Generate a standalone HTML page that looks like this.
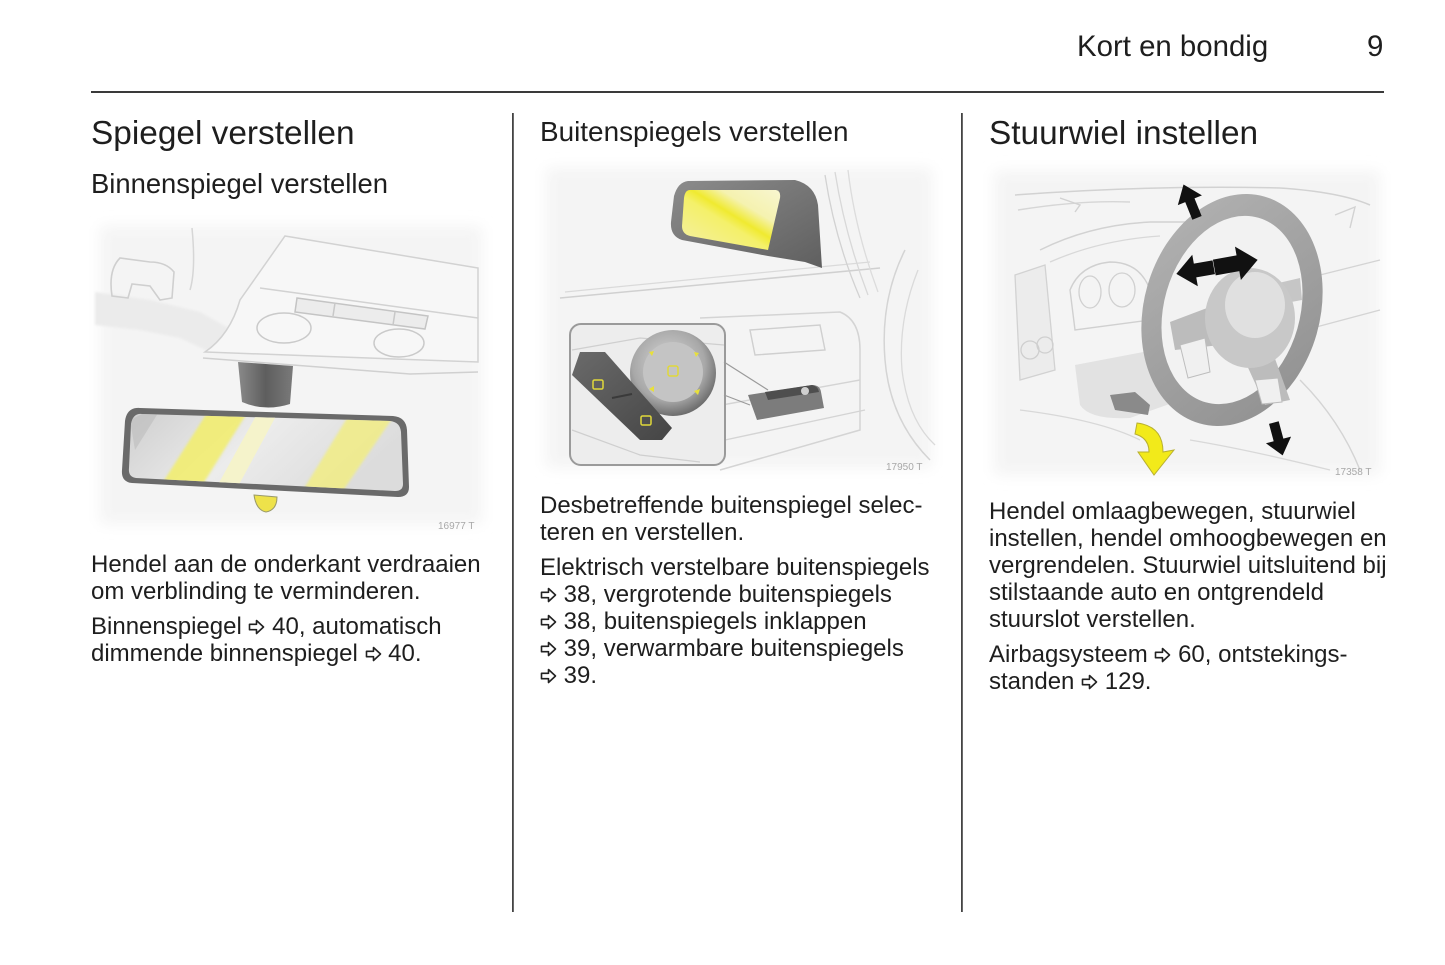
<!DOCTYPE html>
<html>
<head>
<meta charset="utf-8">
<style>
  html,body{margin:0;padding:0;background:#fff;}
  body{width:1445px;height:965px;position:relative;overflow:hidden;font-family:"Liberation Sans",Arial,sans-serif;color:#1e1e1e;}
  .abs{position:absolute;white-space:nowrap;}
  .hdr{font-size:29.4px;line-height:34px;}
  .h1{font-size:33.4px;line-height:40px;}
  .h2{font-size:27.4px;line-height:32px;}
  .h2b{font-size:27.9px;line-height:32px;}
  .body{font-size:24px;line-height:27px;}
  .body p{margin:0 0 8px 0;}
  .ar{width:17px;height:16px;vertical-align:-1px;}
  #art{position:absolute;left:0;top:0;}
</style>
</head>
<body>

<svg id="art" width="1445" height="965" viewBox="0 0 1445 965" xmlns="http://www.w3.org/2000/svg">
  <defs>
    <filter id="soft" x="-10%" y="-10%" width="120%" height="120%"><feGaussianBlur stdDeviation="7"/></filter>
    <filter id="sb" x="-20%" y="-20%" width="140%" height="140%"><feGaussianBlur stdDeviation="1.2"/></filter>
    <linearGradient id="mirr1" x1="0" y1="0" x2="1" y2="0.3">
      <stop offset="0" stop-color="#cfcfcf"/>
      <stop offset="0.5" stop-color="#ececec"/>
      <stop offset="1" stop-color="#dcdcdc"/>
    </linearGradient>
    <linearGradient id="mount" x1="0" y1="0" x2="1" y2="0">
      <stop offset="0" stop-color="#8a8a8a"/>
      <stop offset="0.5" stop-color="#5e5e5e"/>
      <stop offset="1" stop-color="#7a7a7a"/>
    </linearGradient>
    <linearGradient id="glass2" x1="0" y1="1" x2="1" y2="0">
      <stop offset="0" stop-color="#f3f0a8"/>
      <stop offset="0.45" stop-color="#f4f06a"/>
      <stop offset="0.55" stop-color="#f0ea30"/>
      <stop offset="0.7" stop-color="#f5f2b0"/>
      <stop offset="1" stop-color="#f8f6d0"/>
    </linearGradient>
    <linearGradient id="house" x1="0" y1="0" x2="1" y2="1">
      <stop offset="0" stop-color="#8c8c8c"/>
      <stop offset="1" stop-color="#5f5f5f"/>
    </linearGradient>
    <radialGradient id="knob" cx="0.45" cy="0.4" r="0.6">
      <stop offset="0" stop-color="#d8d8d8"/>
      <stop offset="0.7" stop-color="#a8a8a8"/>
      <stop offset="1" stop-color="#6e6e6e"/>
    </radialGradient>
    <linearGradient id="btn" x1="0" y1="0" x2="1" y2="1">
      <stop offset="0" stop-color="#6a6a6a"/>
      <stop offset="1" stop-color="#454545"/>
    </linearGradient>
    <linearGradient id="ring" x1="0" y1="0" x2="1" y2="1">
      <stop offset="0" stop-color="#b4b4b4"/>
      <stop offset="1" stop-color="#8e8e8e"/>
    </linearGradient>
    <clipPath id="mclip"><path d="M142,414 L390,421 Q400,422 401,432 L403,484 Q403,491 395,491 L136,478 Q128,477 129,468 L131,424 Q133,413 142,414 Z"/></clipPath>
  </defs>

  <!-- ============ Image 1 ============ -->
  <rect x="100" y="226" width="382" height="298" fill="#f4f4f4" filter="url(#soft)"/>
  <path d="M95,292 L150,300 L200,312 L232,330 L250,345 L210,352 L180,338 L140,330 L95,325 Z" fill="#ebebeb" filter="url(#sb)"/>
  <path d="M120,258 Q108,270 112,296 L128,298 L132,284 L150,286 L160,300 L172,298 L174,272 Q166,262 150,262 Z" fill="none" stroke="#cfcfcf" stroke-width="1.6"/>
  <path d="M192,228 Q196,270 190,290" fill="none" stroke="#d6d6d6" stroke-width="1.5"/>
  <path d="M285,236 L478,268 L478,362 L205,352 Q230,335 240,300 Z" fill="#f7f7f7" stroke="#d2d2d2" stroke-width="1.5"/>
  <path d="M260,288 L478,318" stroke="#d2d2d2" stroke-width="1.5"/>
  <path d="M203,358 L410,374 L478,372" fill="none" stroke="#d0d0d0" stroke-width="1.5"/>
  <path d="M297,298 L428,316 L425,329 L295,312 Z" fill="#ececec" stroke="#c4c4c4" stroke-width="1.5"/>
  <line x1="335" y1="303" x2="333" y2="316" stroke="#c8c8c8" stroke-width="1.5"/>
  <line x1="395" y1="312" x2="393" y2="325" stroke="#c8c8c8" stroke-width="1.5"/>
  <ellipse cx="284" cy="328" rx="27" ry="15" fill="#f7f7f7" stroke="#cacaca" stroke-width="1.5"/>
  <ellipse cx="399" cy="343" rx="25" ry="14" fill="#f7f7f7" stroke="#cacaca" stroke-width="1.5"/>
  <path d="M238,362 L293,366 L290,404 Q265,412 242,402 Z" fill="url(#mount)"/>
  <path d="M140,408 L393,416 Q406,417 407,430 L409,487 Q409,497 398,497 L132,483 Q121,482 122,470 L125,421 Q127,407 140,408 Z" fill="#6a6a6a"/>
  <path d="M142,414 L390,421 Q400,422 401,432 L403,484 Q403,491 395,491 L136,478 Q128,477 129,468 L131,424 Q133,413 142,414 Z" fill="url(#mirr1)"/>
  <g clip-path="url(#mclip)">
    <polygon points="158,490 212,405 252,405 198,492" fill="#f2ee6a" opacity="0.85" filter="url(#sb)"/>
    <polygon points="215,490 262,405 282,405 235,492" fill="#f6f4c8" opacity="0.9"/>
    <polygon points="300,495 352,410 398,410 340,495" fill="#f1ed84" opacity="0.85" filter="url(#sb)"/>
    <polygon points="130,420 150,410 160,410 135,450" fill="#bdbdbd" opacity="0.6"/>
  </g>
  <path d="M254,495 L277,497 Q277,510 266,512 Q256,510 254,495 Z" fill="#eee24a" stroke="#9a9a6a" stroke-width="1"/>
  <text x="438" y="529" font-family="Liberation Sans, sans-serif" font-size="10" fill="#a8a8a8">16977 T</text>

  <!-- ============ Image 2 ============ -->
  <rect x="546" y="168" width="386" height="300" fill="#f4f4f4" filter="url(#soft)"/>
  <path d="M560,298 L880,268" stroke="#d0d0d0" stroke-width="1.5" fill="none"/>
  <path d="M565,292 L870,262" stroke="#dadada" stroke-width="1.2" fill="none"/>
  <path d="M825,175 Q835,240 860,298" stroke="#d2d2d2" stroke-width="1.3" fill="none"/>
  <path d="M835,172 Q845,235 868,295" stroke="#d8d8d8" stroke-width="1.3" fill="none"/>
  <path d="M848,170 Q855,230 878,292" stroke="#dcdcdc" stroke-width="1.3" fill="none"/>
  <path d="M905,250 Q880,300 885,360 Q890,420 930,460" stroke="#d4d4d4" stroke-width="1.5" fill="none"/>
  <path d="M918,270 Q898,320 902,370 Q908,420 935,445" stroke="#dadada" stroke-width="1.3" fill="none"/>
  <path d="M700,318 L840,312 Q860,320 860,350 L860,430 L720,470" stroke="#d4d4d4" stroke-width="1.5" fill="none"/>
  <path d="M750,330 L820,325 L825,350 L755,355 Z" fill="none" stroke="#cfcfcf" stroke-width="1.4"/>
  <path d="M722,405 L860,380 M725,440 L865,410" stroke="#d4d4d4" stroke-width="1.4" fill="none"/>
  <path d="M688,181 L795,180 Q815,185 818,205 L822,268 L805,262 L768,256 L682,240 Q670,236 671,222 L674,196 Q678,182 688,181 Z" fill="url(#house)"/>
  <path d="M690,190 L776,190 Q781,191 780,198 L768,250 L690,236 Q682,234 682,226 L684,198 Q685,190 690,190 Z" fill="url(#glass2)"/>
  <rect x="570" y="324" width="155" height="141" rx="11" fill="#ededed" stroke="#9a9a9a" stroke-width="2"/>
  <path d="M572,350 L640,338 L724,345" stroke="#cfcfcf" stroke-width="1.2" fill="none"/>
  <path d="M572,430 L640,455 L700,462" stroke="#cfcfcf" stroke-width="1.2" fill="none"/>
  <circle cx="673" cy="373" r="43" fill="url(#knob)"/>
  <circle cx="673" cy="372" r="30" fill="#c4c4c4"/>
  <polygon points="649,352 654,351 652,356" fill="#e8e03a"/>
  <polygon points="694,352 699,353 696,357" fill="#e8e03a"/>
  <polygon points="649,389 654,386 654,392" fill="#e8e03a"/>
  <polygon points="694,391 700,389 698,395" fill="#e8e03a"/>
  <rect x="668" y="366" width="10" height="10" rx="2" fill="none" stroke="#e0d83a" stroke-width="1.5"/>
  <path d="M580,352 L605,352 L672,428 L662,440 L640,440 L572,375 Z" fill="url(#btn)"/>
  <line x1="612" y1="398" x2="632" y2="394" stroke="#3a3a3a" stroke-width="2"/>
  <rect x="593" y="380" width="10" height="9" rx="1.5" fill="none" stroke="#e0d83a" stroke-width="1.5"/>
  <rect x="641" y="416" width="10" height="9" rx="1.5" fill="none" stroke="#e0d83a" stroke-width="1.5"/>
  <line x1="724" y1="362" x2="768" y2="390" stroke="#9a9a9a" stroke-width="1.2"/>
  <line x1="724" y1="395" x2="750" y2="405" stroke="#9a9a9a" stroke-width="1.2"/>
  <path d="M748,395 L812,385 Q820,385 821,392 L824,408 L757,420 Z" fill="#7c7c7c"/>
  <path d="M765,392 L812,385 Q818,386 819,392 L768,400 Z" fill="#4e4e4e"/>
  <circle cx="805" cy="391" r="4" fill="#cfcfcf"/>
  <text x="886" y="470" font-family="Liberation Sans, sans-serif" font-size="10" fill="#a8a8a8">17950 T</text>

  <!-- ============ Image 3 ============ -->
  <rect x="994" y="171" width="386" height="304" fill="#f4f4f4" filter="url(#soft)"/>
  <path d="M1015,195 Q1150,185 1280,188 Q1340,192 1370,205" stroke="#d2d2d2" stroke-width="1.5" fill="none"/>
  <path d="M1018,210 Q1080,200 1130,202" stroke="#d6d6d6" stroke-width="1.4" fill="none"/>
  <path d="M1060,198 L1080,205 L1075,212" stroke="#d2d2d2" stroke-width="1.4" fill="none"/>
  <path d="M1335,215 L1355,207 L1350,228" stroke="#d2d2d2" stroke-width="1.4" fill="none"/>
  <path d="M1040,250 Q1090,225 1150,222 L1195,222" stroke="#d2d2d2" stroke-width="1.5" fill="none"/>
  <path d="M1050,262 Q1100,240 1160,236" stroke="#d8d8d8" stroke-width="1.3" fill="none"/>
  <path d="M1015,275 L1045,265 L1055,370 L1020,380 Z" fill="#ececec" stroke="#d2d2d2" stroke-width="1.3"/>
  <circle cx="1030" cy="350" r="9" fill="none" stroke="#cfcfcf" stroke-width="1.3"/>
  <circle cx="1045" cy="345" r="8" fill="none" stroke="#cfcfcf" stroke-width="1.3"/>
  <path d="M1070,290 Q1080,265 1110,262 Q1140,262 1150,290 L1150,320 L1075,330 Z" fill="none" stroke="#d0d0d0" stroke-width="1.4"/>
  <ellipse cx="1090" cy="292" rx="11" ry="16" fill="none" stroke="#d0d0d0" stroke-width="1.3"/>
  <ellipse cx="1122" cy="290" rx="13" ry="17" fill="none" stroke="#d0d0d0" stroke-width="1.3"/>
  <path d="M1300,280 L1380,260 M1305,330 L1380,310 M1300,380 Q1340,420 1360,470" stroke="#d4d4d4" stroke-width="1.4" fill="none"/>
  <path d="M1020,410 Q1100,420 1140,440 M1190,440 Q1250,450 1330,470" stroke="#d8d8d8" stroke-width="1.3" fill="none"/>
  <path d="M1075,365 L1180,345 L1195,395 L1130,418 Q1090,420 1080,405 Z" fill="#e2e2e2"/>
  <path d="M1110,395 L1135,392 L1150,405 L1148,415 L1115,410 Z" fill="#8a8a8a"/>
  <g transform="rotate(16 1232 310)">
    <ellipse cx="1232" cy="310" rx="88" ry="118" fill="url(#ring)"/>
    <ellipse cx="1232" cy="310" rx="68" ry="96" fill="#f2f2f2"/>
  </g>
  <path d="M1170,322 L1215,305 L1220,345 L1175,350 Z" fill="#bcbcbc"/>
  <path d="M1240,350 L1270,345 L1290,400 L1265,405 Z" fill="#bcbcbc"/>
  <path d="M1270,285 L1300,278 L1302,300 L1275,305 Z" fill="#c6c6c6"/>
  <ellipse cx="1250" cy="318" rx="45" ry="50" fill="#c8c8c8"/>
  <ellipse cx="1255" cy="305" rx="30" ry="33" fill="#e0e0e0"/>
  <path d="M1180,345 L1205,338 L1210,372 L1188,378 Z" fill="#f0f0f0" stroke="#bdbdbd" stroke-width="1"/>
  <path d="M1255,380 L1278,378 L1282,402 L1262,404 Z" fill="#f0f0f0" stroke="#bdbdbd" stroke-width="1"/>
  <!-- black arrows -->
  <g transform="translate(1191,203) rotate(-22)">
    <polygon points="0,-20 13,-3 5,-3 5,16 -5,16 -5,-3 -13,-3" fill="#111"/>
  </g>
  <g transform="translate(1198,270) rotate(-100)">
    <polygon points="0,-22 16,-3 7,-3 7,16 -7,16 -7,-3 -16,-3" fill="#111"/>
  </g>
  <g transform="translate(1234,264) rotate(80)">
    <polygon points="0,-24 17,-4 8,-4 8,20 -8,20 -8,-4 -17,-4" fill="#111"/>
  </g>
  <g transform="translate(1278,438) rotate(165)">
    <polygon points="0,-18 13,-2 5,-2 5,16 -5,16 -5,-2 -13,-2" fill="#111"/>
  </g>
  <path d="M1137,423 Q1163,426 1163,452 L1174,450 L1154,475 L1138,452 L1149,452 Q1149,438 1135,434 Z" fill="#f2ea1a" stroke="#b8b030" stroke-width="1"/>
  <text x="1335" y="475" font-family="Liberation Sans, sans-serif" font-size="10" fill="#a8a8a8">17358 T</text>

  <!-- rules -->
  <rect x="91" y="91" width="1293" height="2" fill="#3a3a3a"/>
  <rect x="512" y="113" width="1.8" height="799" fill="#444"/>
  <rect x="961" y="113" width="1.8" height="799" fill="#444"/>
</svg>

<div class="abs hdr" style="left:1077px;top:30px;">Kort en bondig</div>
<div class="abs hdr" style="left:1367px;top:30px;">9</div>

<div class="abs h1" style="left:91px;top:114px;">Spiegel verstellen</div>
<div class="abs h2" style="left:91px;top:168px;">Binnenspiegel verstellen</div>
<div class="abs body" style="left:91px;top:551px;">
  <p>Hendel aan de onderkant verdraaien<br>om verblinding te verminderen.</p>
  <p>Binnenspiegel <svg class="ar" viewBox="0 0 17 16"><path d="M1.5 5.3H8.5V1.5L15.5 8 8.5 14.5V10.7H1.5Z" fill="none" stroke="#222" stroke-width="1.6" stroke-linejoin="round"/></svg> 40, automatisch<br>dimmende binnenspiegel <svg class="ar" viewBox="0 0 17 16"><path d="M1.5 5.3H8.5V1.5L15.5 8 8.5 14.5V10.7H1.5Z" fill="none" stroke="#222" stroke-width="1.6" stroke-linejoin="round"/></svg> 40.</p>
</div>

<div class="abs h2b" style="left:540px;top:116px;">Buitenspiegels verstellen</div>
<div class="abs body" style="left:540px;top:492px;">
  <p>Desbetreffende buitenspiegel selec-<br>teren en verstellen.</p>
  <p>Elektrisch verstelbare buitenspiegels<br><svg class="ar" viewBox="0 0 17 16"><path d="M1.5 5.3H8.5V1.5L15.5 8 8.5 14.5V10.7H1.5Z" fill="none" stroke="#222" stroke-width="1.6" stroke-linejoin="round"/></svg> 38, vergrotende buitenspiegels<br><svg class="ar" viewBox="0 0 17 16"><path d="M1.5 5.3H8.5V1.5L15.5 8 8.5 14.5V10.7H1.5Z" fill="none" stroke="#222" stroke-width="1.6" stroke-linejoin="round"/></svg> 38, buitenspiegels inklappen<br><svg class="ar" viewBox="0 0 17 16"><path d="M1.5 5.3H8.5V1.5L15.5 8 8.5 14.5V10.7H1.5Z" fill="none" stroke="#222" stroke-width="1.6" stroke-linejoin="round"/></svg> 39, verwarmbare buitenspiegels<br><svg class="ar" viewBox="0 0 17 16"><path d="M1.5 5.3H8.5V1.5L15.5 8 8.5 14.5V10.7H1.5Z" fill="none" stroke="#222" stroke-width="1.6" stroke-linejoin="round"/></svg> 39.</p>
</div>

<div class="abs h1" style="left:989px;top:114px;">Stuurwiel instellen</div>
<div class="abs body" style="left:989px;top:498px;">
  <p>Hendel omlaagbewegen, stuurwiel<br>instellen, hendel omhoogbewegen en<br>vergrendelen. Stuurwiel uitsluitend bij<br>stilstaande auto en ontgrendeld<br>stuurslot verstellen.</p>
  <p>Airbagsysteem <svg class="ar" viewBox="0 0 17 16"><path d="M1.5 5.3H8.5V1.5L15.5 8 8.5 14.5V10.7H1.5Z" fill="none" stroke="#222" stroke-width="1.6" stroke-linejoin="round"/></svg> 60, ontstekings-<br>standen <svg class="ar" viewBox="0 0 17 16"><path d="M1.5 5.3H8.5V1.5L15.5 8 8.5 14.5V10.7H1.5Z" fill="none" stroke="#222" stroke-width="1.6" stroke-linejoin="round"/></svg> 129.</p>
</div>

</body>
</html>
